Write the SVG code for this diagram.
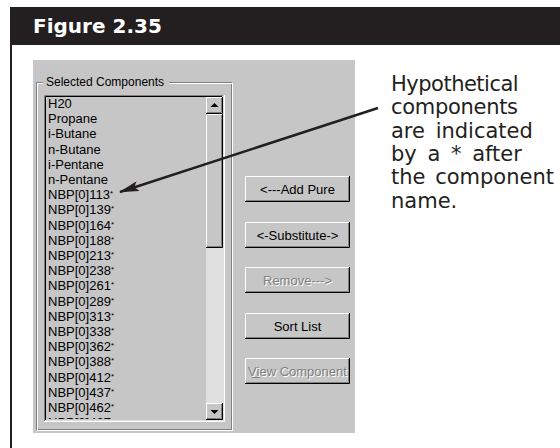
<svg xmlns="http://www.w3.org/2000/svg" width="560" height="448" viewBox="0 0 560 448">
<style>
.lb{font-family:"Liberation Sans",Arial,sans-serif;font-size:13px;fill:#000}
.ast{font-size:8px}
.btn{font-family:"Liberation Sans",Arial,sans-serif;font-size:13px;fill:#000;text-anchor:middle}
.dis{fill:#808080}
.dsh{fill:#fff}
.ann{font-family:"DejaVu Sans",Verdana,sans-serif;font-size:21px;fill:#231f20}
</style>
<defs>
<marker id="ah" markerWidth="20" markerHeight="10" refX="19" refY="5" orient="auto" markerUnits="userSpaceOnUse" viewBox="0 0 20 10">
<path d="M0,0 L20,5 L0,10 L4,5 Z" fill="#231f20"/>
</marker>
<clipPath id="lbclip"><rect x="46" y="97" width="159" height="322"/></clipPath>
</defs>
<rect x="0" y="0" width="560" height="448" fill="#fff"/>
<g id="header">
<rect x="10" y="7" width="550" height="38" fill="#231f20"/>
<rect x="10" y="44" width="2" height="404" fill="#231f20"/>
<text x="33" y="33" font-family="DejaVu Sans,Verdana,sans-serif" font-weight="bold" font-size="20" fill="#fff">Figure 2.35</text>
</g>
<g id="panel">
<rect x="33" y="60" width="322" height="373" fill="#c6c6c6"/>
<rect x="36.5" y="82.5" width="195" height="347" fill="none" stroke="#808080"/>
<rect x="37.5" y="83.5" width="195" height="347" fill="none" stroke="#fff"/>
<rect x="43" y="76" width="126" height="12" fill="#c6c6c6"/>
<text x="46" y="86" font-family="Liberation Sans,Arial,sans-serif" font-size="12" fill="#000">Selected Components</text>
</g>
<g id="listbox">
<rect x="44" y="95" width="180" height="327" fill="#c6c6c6"/>
<path d="M44.5,421 V95.5 H223" fill="none" stroke="#808080"/>
<path d="M45.5,420 V96.5 H222" fill="none" stroke="#000"/>
<path d="M44,421.5 H224.5 V95" fill="none" stroke="#fff"/>
<path d="M45,420.5 H223.5 V96" fill="none" stroke="#dfdfdf"/>
<g clip-path="url(#lbclip)" class="lb">
<text x="48" y="108">H20</text>
<text x="48" y="123.2">Propane</text>
<text x="48" y="138.4">i-Butane</text>
<text x="48" y="153.6">n-Butane</text>
<text x="48" y="168.8">i-Pentane</text>
<text x="48" y="184">n-Pentane</text>
<text x="48" y="199.2">NBP[0]113<tspan class="ast" dy="-3">*</tspan></text>
<text x="48" y="214.4">NBP[0]139<tspan class="ast" dy="-3">*</tspan></text>
<text x="48" y="229.6">NBP[0]164<tspan class="ast" dy="-3">*</tspan></text>
<text x="48" y="244.8">NBP[0]188<tspan class="ast" dy="-3">*</tspan></text>
<text x="48" y="260">NBP[0]213<tspan class="ast" dy="-3">*</tspan></text>
<text x="48" y="275.2">NBP[0]238<tspan class="ast" dy="-3">*</tspan></text>
<text x="48" y="290.4">NBP[0]261<tspan class="ast" dy="-3">*</tspan></text>
<text x="48" y="305.6">NBP[0]289<tspan class="ast" dy="-3">*</tspan></text>
<text x="48" y="320.8">NBP[0]313<tspan class="ast" dy="-3">*</tspan></text>
<text x="48" y="336">NBP[0]338<tspan class="ast" dy="-3">*</tspan></text>
<text x="48" y="351.2">NBP[0]362<tspan class="ast" dy="-3">*</tspan></text>
<text x="48" y="366.4">NBP[0]388<tspan class="ast" dy="-3">*</tspan></text>
<text x="48" y="381.6">NBP[0]412<tspan class="ast" dy="-3">*</tspan></text>
<text x="48" y="396.8">NBP[0]437<tspan class="ast" dy="-3">*</tspan></text>
<text x="48" y="412">NBP[0]462<tspan class="ast" dy="-3">*</tspan></text>
<text x="48" y="427.2">NBP[0]487<tspan class="ast" dy="-3">*</tspan></text>
</g>
<rect x="206" y="97" width="17" height="323" fill="#e0e0e0"/>
<g id="scroll-up">
<rect x="206" y="97" width="17" height="17" fill="#c6c6c6"/>
<path d="M206.5,113 V97.5 H222" fill="none" stroke="#fff"/>
<path d="M206,113.5 H222.5 V97" fill="none" stroke="#000"/>
<path d="M207,112.5 H221.5 V98" fill="none" stroke="#808080"/>
<path d="M214.5,103 L218.5,107 H210.5 Z" fill="#000"/>
</g>
<g id="scroll-thumb">
<rect x="206" y="114" width="17" height="134" fill="#c6c6c6"/>
<path d="M206.5,247 V114.5 H222" fill="none" stroke="#fff"/>
<path d="M206,247.5 H222.5 V114" fill="none" stroke="#000"/>
<path d="M207,246.5 H221.5 V115" fill="none" stroke="#808080"/>
</g>
<g id="scroll-down">
<rect x="206" y="403" width="17" height="17" fill="#c6c6c6"/>
<path d="M206.5,419 V403.5 H222" fill="none" stroke="#fff"/>
<path d="M206,419.5 H222.5 V403" fill="none" stroke="#000"/>
<path d="M207,418.5 H221.5 V404" fill="none" stroke="#808080"/>
<path d="M210.5,410 H218.5 L214.5,414 Z" fill="#000"/>
</g>
</g>
<g id="btn-add">
<rect x="245" y="176" width="105" height="26" fill="#c6c6c6"/>
<path d="M245.5,201 V176.5 H349" fill="none" stroke="#fff"/>
<path d="M245,201.5 H349.5 V176" fill="none" stroke="#000"/>
<path d="M246,200.5 H348.5 V177" fill="none" stroke="#808080"/>
<text class="btn" x="297.5" y="193.5">&lt;---Add Pure</text>
</g>
<g id="btn-substitute">
<rect x="245" y="222" width="105" height="26" fill="#c6c6c6"/>
<path d="M245.5,247 V222.5 H349" fill="none" stroke="#fff"/>
<path d="M245,247.5 H349.5 V222" fill="none" stroke="#000"/>
<path d="M246,246.5 H348.5 V223" fill="none" stroke="#808080"/>
<text class="btn" x="297.5" y="239.5">&lt;-Substitute-&gt;</text>
</g>
<g id="btn-remove">
<rect x="245" y="267" width="105" height="26" fill="#c6c6c6"/>
<path d="M245.5,292 V267.5 H349" fill="none" stroke="#fff"/>
<path d="M245,292.5 H349.5 V267" fill="none" stroke="#000"/>
<path d="M246,291.5 H348.5 V268" fill="none" stroke="#808080"/>
<text class="btn dsh" x="298.5" y="285.5">Remove---&gt;</text>
<text class="btn dis" x="297.5" y="284.5">Remove---&gt;</text>
</g>
<g id="btn-sort">
<rect x="245" y="313" width="105" height="26" fill="#c6c6c6"/>
<path d="M245.5,338 V313.5 H349" fill="none" stroke="#fff"/>
<path d="M245,338.5 H349.5 V313" fill="none" stroke="#000"/>
<path d="M246,337.5 H348.5 V314" fill="none" stroke="#808080"/>
<text class="btn" x="297.5" y="330.5">Sort List</text>
</g>
<g id="btn-view">
<rect x="245" y="358" width="105" height="26" fill="#c6c6c6"/>
<path d="M245.5,383 V358.5 H349" fill="none" stroke="#fff"/>
<path d="M245,383.5 H349.5 V358" fill="none" stroke="#000"/>
<path d="M246,382.5 H348.5 V359" fill="none" stroke="#808080"/>
<text class="btn dsh" x="298.5" y="376.5">View Component</text>
<text class="btn dis" x="297.5" y="375.5">View Component</text>
<rect x="252" y="377" width="8" height="1" fill="#808080"/>
</g>
<g id="annotation">
<text class="ann" x="391" y="91" letter-spacing="-0.5">Hypothetical</text>
<text class="ann" x="391" y="114.3" letter-spacing="-0.3">components</text>
<text class="ann" x="391" y="137.6" word-spacing="4">are indicated</text>
<text class="ann" x="391" y="160.9" word-spacing="4">by a * after</text>
<text class="ann" x="391" y="184.2" word-spacing="3">the component</text>
<text class="ann" x="391" y="207.5">name.</text>
</g>
<g id="connectors">
<line x1="378" y1="108" x2="120" y2="192" stroke="#231f20" stroke-width="2.5" marker-end="url(#ah)"/>
</g>
</svg>
